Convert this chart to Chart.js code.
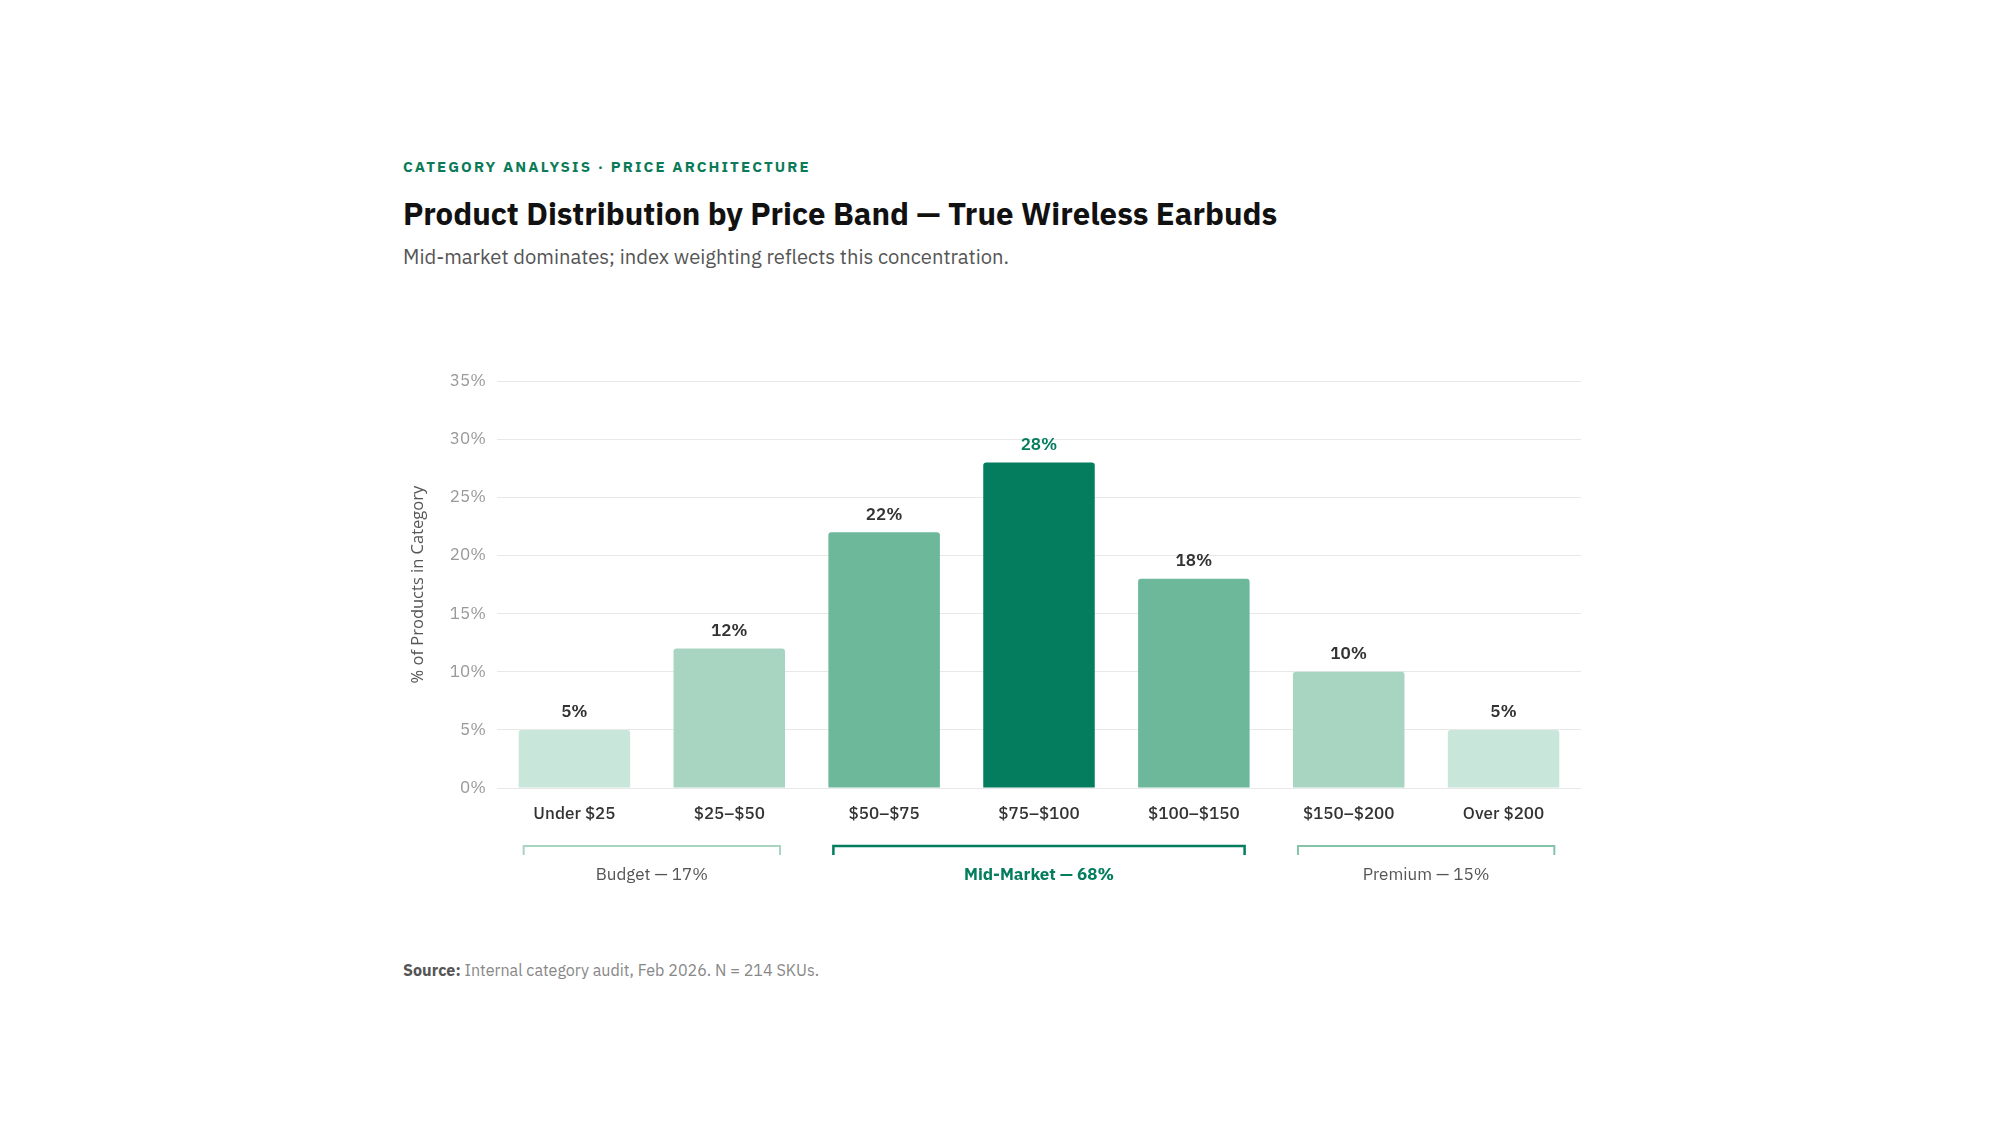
<!DOCTYPE html>
<html>
<head>
<meta charset="utf-8">
<script src="https://cdn.jsdelivr.net/npm/chart.js@4"></script>
<style>
  html, body { margin: 0; padding: 0; background: #fff; }
  body { width: 2000px; height: 1125px; position: relative; font-family: "IBM Plex Sans", Roboto, sans-serif; }
  .kicker { position: absolute; left: 403px; top: 157px; font-size: 15px; font-weight: 700; letter-spacing: 2.1px; color: #0a7a58; }
  .title { position: absolute; left: 403px; top: 193px; font-size: 31.2px; font-weight: 700; color: #111; }
  .sub { position: absolute; left: 403px; top: 243px; font-size: 20.2px; color: #555; }
  .source { position: absolute; left: 403px; top: 959px; font-size: 16.1px; color: #888; }
  .source b { color: #555; }
  #wrap { position: absolute; left: 401px; top: 360px; width: 1182px; height: 540px; }
</style>
</head>
<body>
<div class="kicker">CATEGORY ANALYSIS · PRICE ARCHITECTURE</div>
<div class="title">Product Distribution by Price Band — True Wireless Earbuds</div>
<div class="sub">Mid-market dominates; index weighting reflects this concentration.</div>
<div id="wrap"><canvas id="myChart"></canvas></div>
<div class="source"><b>Source:</b> Internal category audit, Feb 2026. N = 214 SKUs.</div>

<script>
var bands = ['Under $25', '$25–$50', '$50–$75', '$75–$100', '$100–$150', '$150–$200', 'Over $200'];
var shares = [5, 12, 22, 28, 18, 10, 5];
var yTicks = [0, 5, 10, 15, 20, 25, 30, 35];

var groupNames = ['Budget', 'Mid-Market', 'Premium'];
var groupFirst = [0, 2, 5];
var groupLast = [1, 4, 6];

var peak = shares.indexOf(Math.max.apply(null, shares));
var green = '#047d5e';

// shade by distance from the peak band
function barColor(i) {
  if (i === peak) return green;
  var d = Math.abs(i - peak);
  if (d === 1) return '#6db89a';
  if (d === 2) return '#a8d5c2';
  return '#c8e6da';
}

var valueLabels = {
  id: 'valueLabels',
  afterDatasetsDraw: function (chart) {
    var c = chart.ctx;
    var meta = chart.getDatasetMeta(0);
    c.save();
    c.font = '600 17px "IBM Plex Sans", Roboto, sans-serif';
    c.textAlign = 'center';
    c.textBaseline = 'bottom';
    meta.data.forEach(function (bar, i) {
      c.fillStyle = i === peak ? green : '#333';
      c.fillText(shares[i] + '%', bar.x, bar.y - 9);
    });
    c.restore();
  }
};

var brackets = {
  id: 'brackets',
  afterDraw: function (chart) {
    var c = chart.ctx;
    var meta = chart.getDatasetMeta(0);
    var y0 = chart.chartArea.bottom + 58;
    c.save();
    groupNames.forEach(function (name, g) {
      var a = meta.data[groupFirst[g]], b = meta.data[groupLast[g]];
      var x1 = a.x - a.width / 2 + 5, x2 = b.x + b.width / 2 - 5;
      var total = 0;
      for (var i = groupFirst[g]; i <= groupLast[g]; i++) total += shares[i];
      var isMid = groupFirst[g] <= peak && peak <= groupLast[g];
      c.strokeStyle = isMid ? green : (g === 0 ? '#a8d5c2' : '#86c4aa');
      c.lineWidth = isMid ? 2.5 : 2;
      c.beginPath();
      c.moveTo(x1, y0 + 9);
      c.lineTo(x1, y0);
      c.lineTo(x2, y0);
      c.lineTo(x2, y0 + 9);
      c.stroke();
      c.fillStyle = isMid ? green : '#555';
      c.font = (isMid ? '700 ' : '400 ') + '17px "IBM Plex Sans", Roboto, sans-serif';
      c.textAlign = 'center';
      c.textBaseline = 'middle';
      c.fillText(name + ' — ' + total + '%', (x1 + x2) / 2, y0 + 29);
    });
    c.restore();
  }
};

var ctx = document.getElementById('myChart');

var myChart = new Chart(ctx, {
  type: 'bar',
  data: {
    labels: bands,
    datasets: [{
      data: shares,
      backgroundColor: shares.map(function (v, i) { return barColor(i); }),
      borderRadius: 3,
      borderSkipped: 'bottom',
      categoryPercentage: 0.72,
      barPercentage: 1
    }]
  },
  options: {
    responsive: true,
    maintainAspectRatio: false,
    animation: false,
    layout: { padding: { top: 18, right: 2, left: 0, bottom: 0 } },
    plugins: {
      legend: { display: false },
      tooltip: { enabled: false }
    },
    scales: {
      x: {
        grid: { display: false, drawTicks: false },
        border: { display: false },
        ticks: {
          color: '#333',
          padding: 16,
          font: { family: '"IBM Plex Sans", Roboto, sans-serif', size: 17, weight: '500' }
        },
        afterFit: function (s) { s.height = 112; }
      },
      y: {
        min: 0,
        max: 35,
        afterBuildTicks: function (s) { s.ticks = yTicks.map(function (v) { return { value: v }; }); },
        grid: { color: '#e8e8e8', drawTicks: false, lineWidth: 1 },
        border: { display: false },
        ticks: {
          color: '#999',
          padding: 11,
          font: { family: '"IBM Plex Sans", Roboto, sans-serif', size: 17 },
          callback: function (v) { return v + '%'; }
        },
        title: {
          display: true,
          text: '% of Products in Category',
          color: '#555',
          font: { family: '"Open Sans", sans-serif', size: 16.5 },
          padding: { top: 7, bottom: 0 }
        },
        afterFit: function (s) { s.width = 96; }
      }
    }
  },
  plugins: [valueLabels, brackets]
});
</script>
</body>
</html>
